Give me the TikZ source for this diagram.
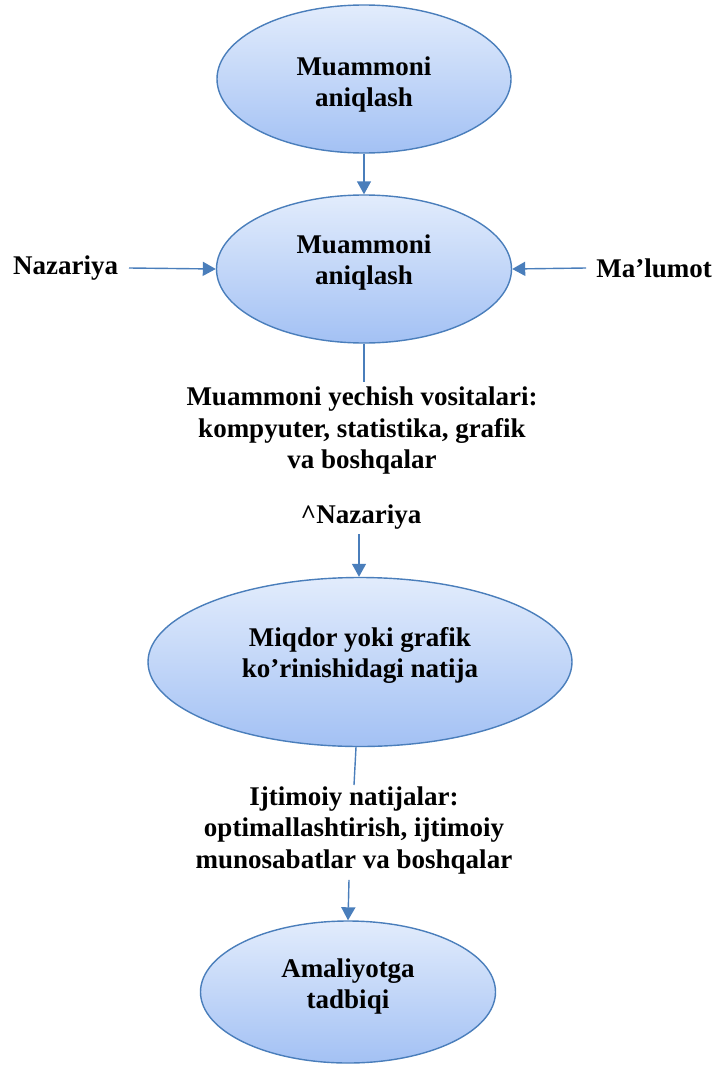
\documentclass[tikz,border=0pt]{standalone}
\usepackage{fontspec}
\setmainfont{Liberation Serif}
\usetikzlibrary{shapes.geometric,arrows.meta}
\definecolor{edge}{HTML}{4A7EBB}
\definecolor{gtop}{HTML}{E2ECFC}
\definecolor{gbot}{HTML}{A3C1F4}
\tikzset{
  oval/.style={ellipse, draw=edge, line width=1.4pt, top color=gtop, bottom color=gbot, inner sep=0pt},
  lbl/.style={align=center, inner sep=1pt, font=\bfseries\fontsize{27}{31.5}\selectfont},
  conn/.style={draw=edge, line width=1.4pt},
  arr/.style={conn, -{Triangle[width=14pt,length=13pt]}}
}
\begin{document}
\begin{tikzpicture}[x=1pt,y=-1pt]
\useasboundingbox (0,0) rectangle (715,1068);
% ellipses
\node[oval, minimum width=294pt, minimum height=148pt] (e1) at (364,79) {};
\node[oval, minimum width=295pt, minimum height=148pt] (e2) at (364,269) {};
\node[oval, minimum width=424pt, minimum height=169pt] (e3) at (360,662) {};
\node[oval, minimum width=295pt, minimum height=142pt] (e4) at (348,992) {};
% texts
\node[lbl] (e1t) at (364,84.5) {Muammoni\\aniqlash};
\node[lbl] (e2t) at (364,262.5) {Muammoni\\aniqlash};
\node[lbl] (e3t) at (360,655.5) {Miqdor yoki grafik\\ko’rinishidagi natija};
\node[lbl] (e4t) at (348,986.5) {Amaliyotga\\tadbiqi};
\node[lbl, anchor=west] (naz) at (12,268) {Nazariya};
\node[lbl, anchor=east] (mal) at (713,268) {Ma’lumot};
\node[lbl] (t1) at (362,431) {Muammoni yechish vositalari:\\kompyuter, statistika, grafik\\va boshqalar};
\node[lbl] (t2) at (361,517) {\^{}Nazariya};
\node[lbl] (t3) at (354,830) {Ijtimoiy natijalar:\\optimallashtirish, ijtimoiy\\munosabatlar va boshqalar};
\coordinate (c1) at (364,382);
\coordinate (c2) at (354,785);
\coordinate (n2) at (129,268);
\coordinate (m2) at (586,268);
% connectors
\draw[arr] (e1.south) -- (e2.north);
\draw[arr] (n2) -- (e2.west);
\draw[arr] (m2) -- (e2.east);
\draw[conn] (e2.south) -- (c1);
\draw[arr] ([xshift=-2pt,yshift=-4pt]t2.south) -- ([xshift=-1pt]e3.north);
\draw[conn] ([xshift=-4pt]e3.south) -- (c2);
\draw[arr] ([xshift=-5pt,yshift=-5pt]t3.south) -- (e4.north);
\end{tikzpicture}
\end{document}
